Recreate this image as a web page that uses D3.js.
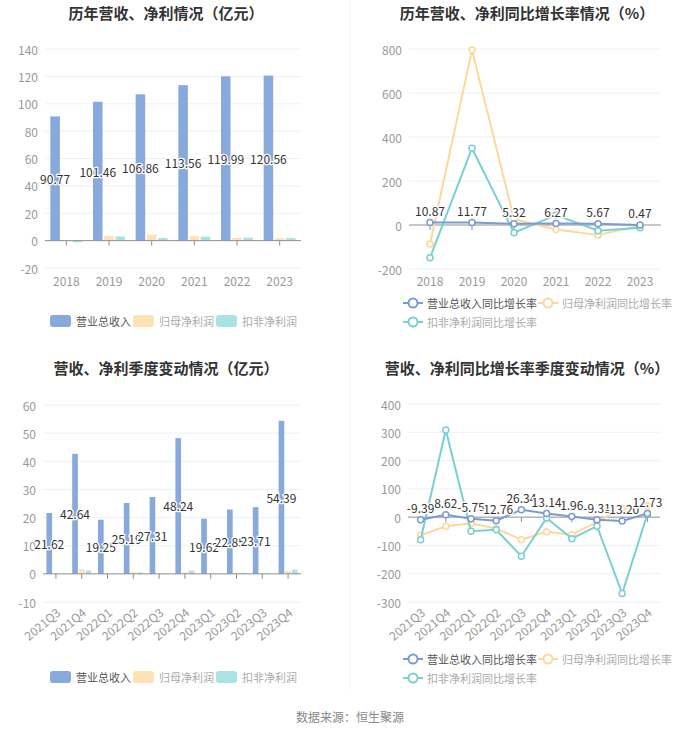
<!DOCTYPE html>
<html>
<head>
<meta charset="utf-8">
<script src="https://cdn.jsdelivr.net/npm/d3@7"></script>
<style>
  body { margin: 0; background: #fff; }
  svg { font-family: "Noto Sans CJK SC", "Noto Sans", sans-serif; }
</style>
</head>
<body>
<svg width="700" height="733"></svg>
<script>
// yearly data
const years = ['2018', '2019', '2020', '2021', '2022', '2023'];
const revenue = [90.77, 101.46, 106.86, 113.56, 119.99, 120.56];
const netProfit = [0.4, 3.5, 4.4, 3.5, 1.9, 1.8];
const deductedProfit = [-1.2, 3.0, 2.0, 2.9, 2.2, 1.9];

const revenueYoY = [10.87, 11.77, 5.32, 6.27, 5.67, 0.47];
const netProfitYoY = [-86, 795, 27, -20, -45, -3];
const deductedYoY = [-149, 349, -35, 45, -26, -12];

// quarterly data
const quarters = ['2021Q3', '2021Q4', '2022Q1', '2022Q2', '2022Q3', '2022Q4', '2023Q1', '2023Q2', '2023Q3', '2023Q4'];
const qRevenue = [21.62, 42.64, 19.25, 25.19, 27.31, 48.24, 19.62, 22.85, 23.71, 54.39];
const qNetProfit = [0.1, 1.7, 0.15, 0.6, 0.1, 0.55, 0.05, 0.45, 0.1, 1.0];
const qDeducted = [0.05, 1.2, -0.1, 0.5, -0.15, 1.2, -0.05, 0.35, 0.1, 1.5];

const qRevenueYoY = [-9.39, 8.62, -5.75, -12.76, 26.34, 13.14, 1.96, -9.31, -13.20, 12.73];
const qNetProfitYoY = [-64, -32, -22, -40, -80, -52, -62, -17, 31, 39];
const qDeductedYoY = [-80, 308, -50, -45, -138, -3, -76, -32, -270, 11];

const barNames = ['营业总收入', '归母净利润', '扣非净利润'];
const lineNames = ['营业总收入同比增长率', '归母净利润同比增长率', '扣非净利润同比增长率'];
const barColors = ['#88a9db', '#fde2b5', '#a9e3e4'];
const lineColors = ['#7b9bd3', '#fcd89a', '#79d0d2'];

const svg = d3.select('svg');

// faint divider
svg.append('line')
  .attr('x1', 350).attr('x2', 350).attr('y1', 0).attr('y2', 690)
  .attr('stroke', '#f2f2f2');

function title(text, cx, cy) {
  svg.append('text')
    .attr('x', cx).attr('y', cy)
    .attr('text-anchor', 'middle')
    .attr('dominant-baseline', 'central')
    .attr('font-size', 15).attr('font-weight', 'bold')
    .attr('fill', '#333')
    .text(text);
}

function yAxisGrid(g, y, ticks, x0, x1) {
  ticks.forEach(t => {
    g.append('line')
      .attr('x1', x0).attr('x2', x1)
      .attr('y1', y(t)).attr('y2', y(t))
      .attr('stroke', t === 0 ? '#8f8f8f' : '#eef0f4')
      .attr('stroke-width', 1);
    g.append('text')
      .attr('x', x0 - 7).attr('y', y(t))
      .attr('text-anchor', 'end')
      .attr('dominant-baseline', 'central')
      .attr('font-size', 12).attr('fill', '#999')
      .text(t);
  });
}

function xLabels(g, x, cats, yAxis, yLab, rotate) {
  cats.forEach(c => {
    const cx = x(c) + x.bandwidth() / 2;
    g.append('line')
      .attr('x1', cx).attr('x2', cx)
      .attr('y1', yAxis).attr('y2', yAxis + 5)
      .attr('stroke', '#8f8f8f');
    if (rotate) {
      g.append('text')
        .attr('transform', `translate(${cx + 2},${yLab}) rotate(-40)`)
        .attr('text-anchor', 'end')
        .attr('dominant-baseline', 'central')
        .attr('font-size', 12).attr('fill', '#999')
        .text(c);
    } else {
      g.append('text')
        .attr('x', cx).attr('y', yLab)
        .attr('text-anchor', 'middle')
        .attr('dominant-baseline', 'central')
        .attr('font-size', 12).attr('fill', '#999')
        .text(c);
    }
  });
}

function barLegend(ly) {
  const xs = [50, 133, 216];
  barNames.forEach((n, i) => {
    svg.append('rect')
      .attr('x', xs[i]).attr('y', ly - 6)
      .attr('width', 21).attr('height', 12).attr('rx', 3)
      .attr('fill', barColors[i]);
    svg.append('text')
      .attr('x', xs[i] + 26).attr('y', ly)
      .attr('dominant-baseline', 'central')
      .attr('font-size', 11).attr('fill', i === 0 ? '#555' : '#aaa')
      .text(n);
  });
}

function lineLegend(ly) {
  const pos = [[403, ly], [538, ly], [403, ly + 19]];
  lineNames.forEach((n, i) => {
    const [lx, y0] = pos[i];
    svg.append('line')
      .attr('x1', lx).attr('x2', lx + 20)
      .attr('y1', y0).attr('y2', y0)
      .attr('stroke', lineColors[i]).attr('stroke-width', 2);
    svg.append('circle')
      .attr('cx', lx + 10).attr('cy', y0).attr('r', 4.5)
      .attr('fill', '#fff')
      .attr('stroke', lineColors[i]).attr('stroke-width', 2);
    svg.append('text')
      .attr('x', lx + 24).attr('y', y0)
      .attr('dominant-baseline', 'central')
      .attr('font-size', 11).attr('fill', i === 0 ? '#555' : '#aaa')
      .text(n);
  });
}

function barChart(opts) {
  const { cats, series, x0, x1, yDomain, yRange, ticks, groupHalf, labY, rotate, titleText, titleY, legendY } = opts;
  title(titleText, 166, titleY);
  const g = svg.append('g');
  const x = d3.scaleBand().domain(cats).range([x0, x1]);
  const y = d3.scaleLinear().domain(yDomain).range(yRange);
  const inner = d3.scaleBand().domain([0, 1, 2]).range([-groupHalf, groupHalf]).paddingInner(0.15);
  yAxisGrid(g, y, ticks.filter(t => t !== 0), x0, x1);

  series.forEach((vals, si) => {
    g.selectAll(null)
      .data(vals)
      .enter()
      .append('rect')
      .attr('x', (d, i) => x(cats[i]) + x.bandwidth() / 2 + inner(si))
      .attr('width', inner.bandwidth())
      .attr('y', d => y(Math.max(0, d)))
      .attr('height', d => Math.abs(y(d) - y(0)))
      .attr('fill', barColors[si]);
  });

  // zero axis on top of bars
  g.append('line')
    .attr('x1', x0).attr('x2', x1)
    .attr('y1', y(0)).attr('y2', y(0))
    .attr('stroke', '#8f8f8f');
  g.append('text')
    .attr('x', x0 - 7).attr('y', y(0))
    .attr('text-anchor', 'end')
    .attr('dominant-baseline', 'central')
    .attr('font-size', 12).attr('fill', '#999')
    .text(0);

  xLabels(g, x, cats, y(0), labY, rotate);

  // revenue value labels, middle of bar
  g.selectAll(null)
    .data(series[0])
    .enter()
    .append('text')
    .attr('x', (d, i) => x(cats[i]) + x.bandwidth() / 2 + inner(0) + inner.bandwidth() / 2)
    .attr('y', d => y(d / 2))
    .attr('text-anchor', 'middle')
    .attr('dominant-baseline', 'central')
    .attr('font-size', 12).attr('fill', '#333')
    .attr('stroke', '#fff').attr('stroke-width', 2.5)
    .attr('paint-order', 'stroke')
    .text(d => d.toFixed(2));

  barLegend(legendY);
}

function lineChart(opts) {
  const { cats, series, x0, x1, yDomain, yRange, ticks, labY, rotate, titleText, titleY, legendY } = opts;
  title(titleText, 527, titleY);
  const g = svg.append('g');
  const x = d3.scaleBand().domain(cats).range([x0, x1]);
  const y = d3.scaleLinear().domain(yDomain).range(yRange);
  yAxisGrid(g, y, ticks, x0, x1);
  xLabels(g, x, cats, y(0), labY, rotate);

  const cx = i => x(cats[i]) + x.bandwidth() / 2;
  const line = d3.line().x((d, i) => cx(i)).y(d => y(d));

  [1, 2, 0].forEach(si => {
    g.append('path')
      .datum(series[si])
      .attr('d', line)
      .attr('fill', 'none')
      .attr('stroke', lineColors[si])
      .attr('stroke-width', 2);
    g.selectAll(null)
      .data(series[si])
      .enter()
      .append('circle')
      .attr('cx', (d, i) => cx(i))
      .attr('cy', d => y(d))
      .attr('r', 3)
      .attr('fill', '#fff')
      .attr('stroke', lineColors[si])
      .attr('stroke-width', 1.5);
  });

  g.selectAll(null)
    .data(series[0])
    .enter()
    .append('text')
    .attr('x', (d, i) => cx(i))
    .attr('y', d => y(d) - 12)
    .attr('text-anchor', 'middle')
    .attr('dominant-baseline', 'central')
    .attr('font-size', 12).attr('fill', '#333')
    .attr('stroke', '#fff').attr('stroke-width', 2.5)
    .attr('paint-order', 'stroke')
    .text(d => d.toFixed(2));

  lineLegend(legendY);
}

barChart({
  cats: years, series: [revenue, netProfit, deductedProfit],
  x0: 45, x1: 301, yDomain: [-20, 140], yRange: [268, 49],
  ticks: d3.range(-20, 141, 20), groupHalf: 16, labY: 280, rotate: false,
  titleText: '历年营收、净利情况（亿元）', titleY: 12, legendY: 321
});

lineChart({
  cats: years, series: [revenueYoY, netProfitYoY, deductedYoY],
  x0: 409, x1: 661, yDomain: [-200, 800], yRange: [269, 49],
  ticks: d3.range(-200, 801, 200), labY: 280, rotate: false,
  titleText: '历年营收、净利同比增长率情况（%）', titleY: 12, legendY: 303
});

barChart({
  cats: quarters, series: [qRevenue, qNetProfit, qDeducted],
  x0: 43, x1: 301, yDomain: [-10, 60], yRange: [602, 405],
  ticks: d3.range(-10, 61, 10), groupHalf: 9.5, labY: 610, rotate: true,
  titleText: '营收、净利季度变动情况（亿元）', titleY: 367, legendY: 677
});

lineChart({
  cats: quarters, series: [qRevenueYoY, qNetProfitYoY, qDeductedYoY],
  x0: 408, x1: 660, yDomain: [-300, 400], yRange: [602, 404],
  ticks: d3.range(-300, 401, 100), labY: 610, rotate: true,
  titleText: '营收、净利同比增长率季度变动情况（%）', titleY: 367, legendY: 659
});

svg.append('text')
  .attr('x', 350).attr('y', 716)
  .attr('text-anchor', 'middle')
  .attr('dominant-baseline', 'central')
  .attr('font-size', 12).attr('fill', '#888')
  .text('数据来源：恒生聚源');
</script>
</body>
</html>
